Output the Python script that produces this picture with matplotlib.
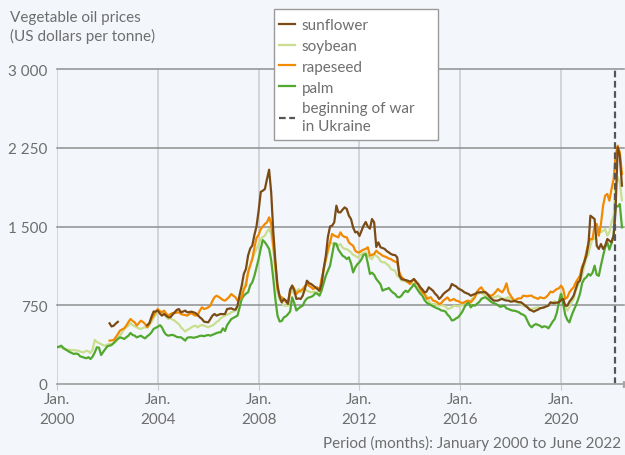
import numpy as np
import pandas as pd
import matplotlib
matplotlib.use("Agg")
import matplotlib.pyplot as plt
from matplotlib.patches import Rectangle

plt.rcParams["font.family"] = ["Lato", "DejaVu Sans"]

# monthly observations, January 2000 to June 2022
months = pd.date_range("2000-01-01", "2022-06-01", freq="MS")
war_start = pd.Timestamp("2022-02-24")

y_ticks = [0, 750, 1500, 2250, 3000]
y_tick_labels = ["0", "750", "1 500", "2 250", "3 000"]
x_tick_years = [2000, 2004, 2008, 2012, 2016, 2020]

# US dollars per tonne (one row per year)
sunflower = (
    [None] * 12
    + [None] * 12
    + [None, 578, 548, 555, 575, 592, None, None, None, None, None, None]
    + [None, None, None, None, None, None, None, 560, 580, 640, 690, 690]
    + [699, 670, 651, 667, 650, 635, 635, 660, 683, 705, 714, 683]
    + [690, 699, 683, 685, 689, 683, 675, 657, 635, 619, 594, 590]
    + [587, 619, 650, 667, 651, 660, 667, 665, 667, 714, 718, 721]
    + [710, 708, 746, 850, 937, 1050, 1095, 1223, 1290, 1318, 1420, 1500]
    + [1650, 1830, 1841, 1857, 1952, 2041, 1825, 1444, 1159, 937, 830, 778]
    + [810, 794, 762, 900, 937, 889, 810, 815, 810, 841, 905, 984]
    + [960, 952, 937, 920, 905, 889, 952, 1100, 1222, 1400, 1500, 1508]
    + [1540, 1698, 1635, 1635, 1660, 1682, 1667, 1603, 1571, 1492, 1444, 1450]
    + [1410, 1460, 1508, 1543, 1500, 1480, 1571, 1540, 1305, 1349, 1302, 1295]
    + [1286, 1265, 1254, 1238, 1230, 1228, 1206, 1032, 1000, 994, 990, 984]
    + [975, 985, 1000, 975, 952, 921, 900, 873, 880, 921, 905, 889]
    + [860, 841, 810, 830, 857, 875, 889, 905, 952, 940, 930, 911]
    + [900, 889, 873, 865, 857, 841, 850, 857, 870, 873, 873, 875]
    + [873, 857, 830, 810, 794, 794, 794, 805, 810, 800, 795, 794]
    + [784, 787, 790, 784, 780, 778, 762, 745, 730, 708, 700, 689]
    + [700, 708, 721, 725, 730, 740, 746, 778, 772, 772, 775, 778]
    + [800, 810, 746, 746, 784, 810, 841, 905, 968, 984, 1095, 1160]
    + [1222, 1333, 1603, 1587, 1571, 1317, 1286, 1333, 1286, 1317, 1381, 1365]
    + [1349, 1413, 1667, 2254, 2175, 1889]
)

soybean = (
    [355, 350, 355, 335, 330, 328, 325, 324, 322, 320, 318, 310]
    + [302, 305, 318, 310, 295, 330, 420, 400, 390, 381, 370, 365]
    + [375, 381, 380, 390, 400, 430, 460, 490, 524, 540, 556, 580]
    + [560, 549, 540, 530, 524, 535, 540, 540, 560, 590, 630, 660]
    + [680, 699, 690, 667, 640, 619, 626, 615, 603, 585, 571, 540]
    + [520, 499, 515, 524, 540, 550, 556, 540, 555, 562, 556, 548]
    + [540, 552, 556, 571, 590, 603, 626, 640, 651, 660, 667, 683]
    + [690, 699, 746, 800, 873, 930, 968, 1063, 1130, 1191, 1240, 1286]
    + [1330, 1381, 1400, 1413, 1450, 1476, 1429, 1286, 1063, 873, 800, 778]
    + [746, 746, 746, 860, 889, 857, 880, 905, 873, 890, 905, 889]
    + [880, 873, 879, 875, 873, 900, 937, 1095, 1180, 1254, 1349, 1340]
    + [1333, 1317, 1320, 1333, 1300, 1286, 1286, 1270, 1254, 1230, 1222, 1206]
    + [1215, 1238, 1250, 1254, 1222, 1200, 1190, 1238, 1220, 1206, 1170, 1159]
    + [1159, 1140, 1127, 1095, 1085, 1079, 1030, 1016, 984, 984, 975, 968]
    + [968, 960, 937, 930, 921, 895, 889, 860, 841, 794, 762, 762]
    + [762, 750, 746, 752, 745, 740, 714, 720, 730, 746, 742, 740]
    + [746, 750, 778, 770, 762, 794, 820, 841, 857, 865, 873, 855]
    + [841, 826, 820, 816, 826, 830, 841, 826, 815, 810, 820, 826]
    + [810, 800, 794, 778, 770, 762, 746, 738, 730, 720, 714, 721]
    + [725, 730, 721, 725, 730, 740, 746, 770, 772, 790, 762, 794]
    + [873, 800, 740, 699, 730, 780, 810, 889, 940, 984, 1032, 1120]
    + [1200, 1238, 1317, 1381, 1381, 1429, 1476, 1445, 1460, 1476, 1413, 1445]
    + [1540, 1600, 1900, 1970, 1920, 1750]
)

rapeseed = (
    [None] * 12
    + [None] * 12
    + [None, 413, 415, 419, 444, 475, 508, 520, 530, 556, 590, 619]
    + [600, 587, 556, 580, 603, 590, 571, 540, 575, 619, 651, 690]
    + [714, 690, 683, 699, 670, 651, 665, 676, 676, 680, 683, 667]
    + [660, 657, 651, 665, 676, 660, 651, 657, 700, 730, 714, 720]
    + [730, 746, 790, 825, 841, 830, 816, 800, 794, 810, 830, 857]
    + [840, 825, 794, 810, 825, 900, 937, 1063, 1130, 1191, 1300, 1390]
    + [1420, 1476, 1500, 1524, 1540, 1587, 1524, 1317, 1127, 905, 840, 825]
    + [810, 778, 778, 880, 937, 905, 857, 880, 889, 905, 930, 952]
    + [935, 921, 905, 915, 921, 889, 1000, 1090, 1190, 1280, 1349, 1429]
    + [1413, 1405, 1397, 1444, 1413, 1400, 1397, 1349, 1330, 1317, 1270, 1254]
    + [1254, 1270, 1280, 1286, 1302, 1222, 1230, 1238, 1270, 1250, 1238, 1222]
    + [1215, 1206, 1195, 1190, 1175, 1165, 1159, 1063, 1020, 1000, 984, 970]
    + [952, 980, 1000, 960, 952, 905, 870, 857, 810, 820, 826, 794]
    + [790, 778, 762, 770, 794, 810, 825, 794, 800, 810, 794, 790]
    + [778, 771, 778, 790, 794, 778, 800, 826, 880, 905, 921, 890]
    + [873, 848, 845, 841, 857, 880, 905, 885, 873, 905, 959, 873]
    + [841, 810, 794, 810, 816, 816, 841, 838, 835, 841, 841, 826]
    + [820, 810, 826, 820, 816, 830, 850, 880, 873, 889, 905, 911]
    + [937, 905, 810, 826, 873, 900, 921, 968, 1000, 1032, 1120, 1159]
    + [1254, 1349, 1381, 1381, 1508, 1524, 1413, 1524, 1698, 1794, 1810, 1746]
    + [1857, 1953, 2175, 2270, 2206, 2000]
)

palm = (
    [350, 355, 365, 345, 330, 318, 305, 295, 286, 290, 286, 263]
    + [258, 250, 245, 255, 238, 262, 300, 350, 345, 276, 305, 333]
    + [360, 365, 371, 390, 413, 430, 444, 438, 429, 445, 460, 486]
    + [467, 460, 444, 452, 460, 445, 435, 455, 470, 492, 524, 535]
    + [545, 560, 540, 495, 470, 460, 465, 468, 460, 448, 445, 445]
    + [430, 413, 440, 445, 445, 440, 445, 450, 458, 460, 455, 462]
    + [467, 460, 468, 476, 485, 492, 492, 530, 505, 560, 590, 619]
    + [630, 640, 651, 730, 810, 841, 860, 873, 940, 968, 1030, 1110]
    + [1191, 1290, 1370, 1350, 1320, 1286, 1180, 1000, 800, 650, 595, 600]
    + [635, 645, 665, 690, 825, 770, 700, 720, 735, 746, 790, 815]
    + [825, 830, 841, 865, 860, 841, 890, 960, 1032, 1080, 1127, 1230]
    + [1340, 1335, 1280, 1250, 1222, 1210, 1190, 1206, 1150, 1063, 1110, 1140]
    + [1160, 1190, 1230, 1238, 1150, 1048, 1060, 1040, 1000, 975, 950, 889]
    + [900, 905, 915, 889, 870, 857, 830, 825, 841, 870, 889, 875]
    + [900, 925, 952, 920, 889, 860, 841, 800, 775, 762, 752, 740]
    + [730, 720, 714, 700, 698, 690, 660, 640, 605, 610, 625, 635]
    + [660, 690, 730, 760, 778, 730, 750, 746, 765, 780, 810, 820]
    + [826, 810, 795, 778, 770, 762, 750, 735, 740, 746, 720, 714]
    + [705, 698, 698, 690, 683, 667, 660, 645, 600, 560, 540, 560]
    + [571, 562, 555, 540, 550, 545, 530, 560, 594, 619, 680, 778]
    + [857, 760, 660, 610, 587, 651, 700, 746, 800, 860, 960, 1000]
    + [1016, 1048, 1032, 1060, 1127, 1040, 1030, 1130, 1220, 1302, 1349, 1280]
    + [1340, 1420, 1698, 1690, 1714, 1492]
)

series = [
    ("sunflower", sunflower, "#7b4b16"),
    ("soybean", soybean, "#c9de8e"),
    ("rapeseed", rapeseed, "#f28a00"),
    ("palm", palm, "#52a82e"),
]

bg = "#f3f6fb"
text_col = "#6e6e6e"
fs = 11

fig = plt.figure(figsize=(6.25, 4.56), dpi=100, facecolor=bg)
ax = fig.add_axes([57 / 625, 1 - 385 / 456, 567 / 625, 315 / 456], facecolor=bg)

tick_dates = [pd.Timestamp(f"{y}-01-01") for y in x_tick_years]

# grid: light vertical, darker horizontal
for d in tick_dates:
    ax.axvline(d, color="#cbcbcb", lw=1.1, zorder=1)
for v in y_ticks[1:]:
    ax.axhline(v, color="#8f8f8f", lw=1.1, zorder=1, clip_on=False)

handles = {}
for name, vals, col in [series[1], series[3], series[2], series[0]]:
    y = np.array(vals, dtype=float)
    (ln,) = ax.plot(months, y, color=col, lw=1.6, zorder=3, label=name)
    handles[name] = ln

war = ax.axvline(war_start, color="#555555", lw=1.6, dashes=(3, 1.6), zorder=4,
                 clip_on=False)

ax.set_xlim(pd.Timestamp("2000-01-01"), pd.Timestamp("2022-07-01"))
ax.set_ylim(0, 3000)

ax.set_xticks(tick_dates)
ax.set_xticklabels([f"Jan.\n{y}" for y in x_tick_years], linespacing=1.55)
ax.set_yticks(y_ticks)
ax.set_yticklabels(y_tick_labels)
ax.tick_params(axis="x", length=4, color="#cbcbcb", labelcolor=text_col,
               labelsize=fs, pad=2)
ax.tick_params(axis="y", length=0, labelcolor=text_col, labelsize=fs, pad=7)

for s in ["top", "right", "left"]:
    ax.spines[s].set_visible(False)
ax.spines["bottom"].set_color("#a5a5a5")
ax.spines["bottom"].set_linewidth(1.3)
ax.spines["bottom"].set_zorder(5)
ax.plot([1.003], [0], marker=">", ms=5, color="#a5a5a5",
        transform=ax.transAxes, clip_on=False, zorder=5)

# legend box drawn separately so its size matches the original
box = Rectangle((274 / 625, 1 - 141 / 456), 164 / 625, 131 / 456,
                transform=fig.transFigure, facecolor="white",
                edgecolor="#9a9a9a", lw=1.0, zorder=10)
fig.patches.append(box)

leg_handles = [handles[n] for n, _, _ in series] + [war]
leg_labels = [n for n, _, _ in series] + ["beginning of war\nin Ukraine"]
leg = fig.legend(leg_handles, leg_labels, loc="upper left",
                 bbox_to_anchor=(279 / 625, 1 - 19 / 456),
                 frameon=False, fontsize=fs, labelcolor=text_col,
                 handlelength=1.05, handletextpad=0.45, labelspacing=0.45,
                 borderpad=0, borderaxespad=0)
leg.set_zorder(11)
for t in leg.get_texts():
    t.set_linespacing(1.35)

fig.text(10 / 625, 1 - 11 / 456, "Vegetable oil prices\n(US dollars per tonne)",
         ha="left", va="top", color=text_col, fontsize=fs, linespacing=1.3)
fig.text(621 / 625, 1 - 451 / 456, "Period (months): January 2000 to June 2022",
         ha="right", va="bottom", color=text_col, fontsize=fs)

fig.savefig("out.png", dpi=100, facecolor=bg)
